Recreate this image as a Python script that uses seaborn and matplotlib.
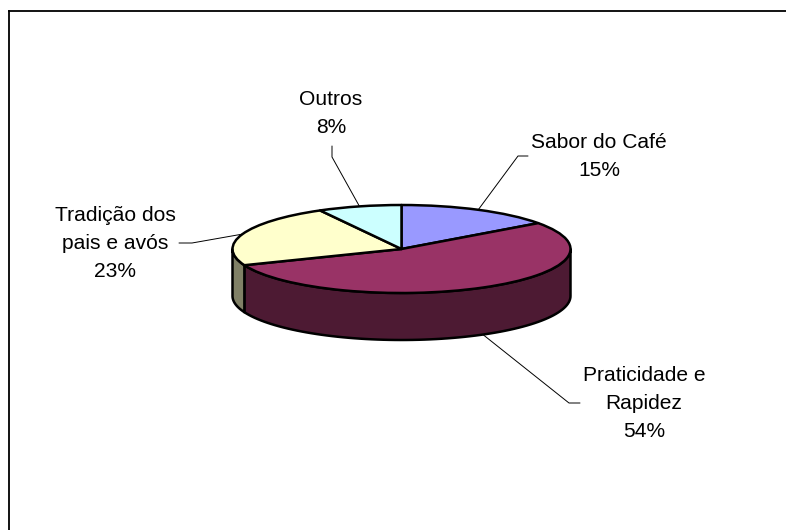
# pie chart - motivos de consumo (3D look)

import numpy as np
import pandas as pd
import matplotlib.pyplot as plt
import seaborn as sns

# data
categories = ["Sabor do Café", "Praticidade e\nRapidez", "Tradição dos\npais e avós", "Outros"]
values = [15, 54, 23, 8]
top_colors = ["#9999FF", "#993366", "#FFFFCC", "#CCFFFF"]

# layout, in pixels of the 786x530 image
W, H = 786, 530
CX, CY = 401.5, 249
RX, RY = 169, 44
DEPTH = 47
label_pos = [(599, 156.5), (644, 403.5), (115, 243.5), (331, 113.5)]
elbows = [
    [(528, 156), (518, 156)],
    [(580, 403), (569, 403)],
    [(179, 243), (192, 243)],
    [(332, 146), (332, 157)],
]


def to_x(px):
    return (px - CX) / RX


def to_y(py):
    return (CY - py) / RY


sns.set_theme(style="white")
plt.rcParams["font.family"] = ["Liberation Sans", "DejaVu Sans"]

df = pd.DataFrame({"categoria": categories, "valor": values})
palette = sns.color_palette(top_colors)
side_colors = [tuple(c * 0.5 for c in col) for col in palette]

fig = plt.figure(figsize=(W / 100, H / 100), dpi=100)
ax = fig.add_axes([9 / W, 0, 1 - 9 / W, 1 - 10.8 / H])

# angles clockwise from 12 o'clock
edges = np.concatenate([[0], np.cumsum(df["valor"])]) / df["valor"].sum() * 360
mids = (edges[:-1] + edges[1:]) / 2

# side wall: only the part of each slice on the front half is visible
drop = DEPTH / RY
for i in range(len(values)):
    a0, a1 = max(edges[i], 90), min(edges[i + 1], 270)
    if a0 >= a1:
        continue
    t = np.radians(np.linspace(a0, a1, 80))
    xs = np.sin(t)
    ys = np.cos(t)
    ax.fill(
        np.concatenate([xs, xs[::-1]]),
        np.concatenate([ys, ys[::-1] - drop]),
        facecolor=side_colors[i],
        edgecolor="black",
        linewidth=1.8,
        joinstyle="round",
    )

# top face
ax.pie(
    df["valor"],
    colors=palette,
    startangle=90,
    counterclock=False,
    radius=1,
    wedgeprops={"edgecolor": "black", "linewidth": 1.8, "joinstyle": "round"},
)

# pie() forces equal aspect, squash it back to the ellipse
ax.set_aspect("auto")
ax.set_xlim(to_x(9), to_x(W))
ax.set_ylim(to_y(H), to_y(10.8))

ax.set_frame_on(True)
for side in ["right", "bottom"]:
    ax.spines[side].set_visible(False)
for side in ["top", "left"]:
    ax.spines[side].set_visible(True)
    ax.spines[side].set_color("black")
    ax.spines[side].set_linewidth(1.3)

# leader lines and labels
for i, name in enumerate(categories):
    t = np.radians(mids[i])
    ax_x = np.sin(t)
    ax_y = np.cos(t)
    if np.cos(t) < 0:
        ax_y -= drop
    xs = [to_x(p[0]) for p in elbows[i]] + [ax_x]
    ys = [to_y(p[1]) for p in elbows[i]] + [ax_y]
    ax.plot(xs, ys, color="black", linewidth=0.7, solid_joinstyle="miter")

    lx, ly = label_pos[i]
    ax.text(
        to_x(lx),
        to_y(ly),
        f"{name}\n{values[i]}%",
        ha="center",
        va="center",
        multialignment="center",
        fontsize=15.1,
        color="black",
        linespacing=1.63,
    )

fig.savefig("out.png", dpi=100)
